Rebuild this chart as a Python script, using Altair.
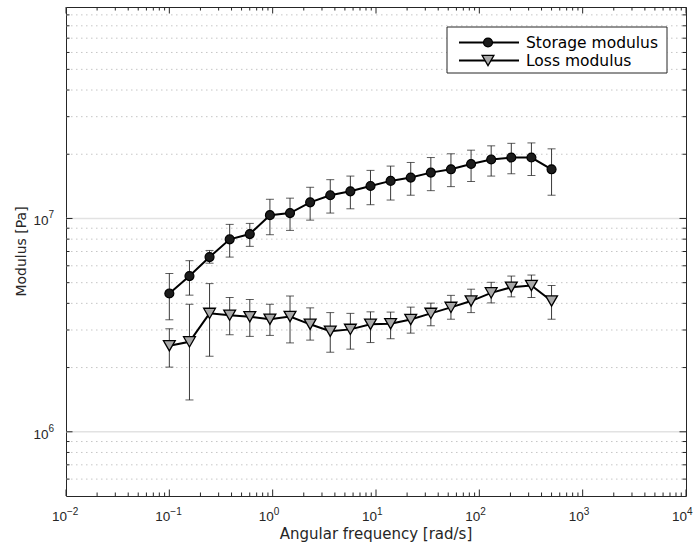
import altair as alt
import pandas as pd

# ---------------- data ----------------
freq = [0.1, 0.1566, 0.2450, 0.3837, 0.6008, 0.9404, 1.472, 2.305, 3.608, 5.649,
        8.845, 13.85, 21.68, 33.95, 53.13, 83.18, 130.2, 203.9, 319.2, 500.0]

storage = [4.45e6, 5.37e6, 6.59e6, 7.98e6, 8.45e6, 1.036e7, 1.06e7, 1.19e7, 1.285e7, 1.34e7,
           1.42e7, 1.50e7, 1.555e7, 1.64e7, 1.70e7, 1.80e7, 1.89e7, 1.93e7, 1.93e7, 1.70e7]
storage_lo = [3.35e6, 4.37e6, 6.17e6, 6.59e6, 7.40e6, 8.39e6, 8.79e6, 9.82e6, 1.06e7, 1.11e7,
              1.16e7, 1.22e7, 1.285e7, 1.35e7, 1.41e7, 1.49e7, 1.58e7, 1.62e7, 1.59e7, 1.285e7]
storage_hi = [5.52e6, 6.34e6, 7.08e6, 9.38e6, 9.48e6, 1.23e7, 1.245e7, 1.40e7, 1.52e7, 1.58e7,
              1.68e7, 1.76e7, 1.83e7, 1.93e7, 2.01e7, 2.09e7, 2.19e7, 2.25e7, 2.26e7, 2.12e7]

loss = [2.53e6, 2.64e6, 3.59e6, 3.52e6, 3.46e6, 3.37e6, 3.47e6, 3.19e6, 2.96e6, 3.02e6,
        3.19e6, 3.21e6, 3.36e6, 3.59e6, 3.83e6, 4.10e6, 4.48e6, 4.76e6, 4.85e6, 4.10e6]
loss_lo = [2.01e6, 1.41e6, 2.26e6, 2.85e6, 2.80e6, 2.83e6, 2.61e6, 2.69e6, 2.36e6, 2.44e6,
           2.62e6, 2.73e6, 2.90e6, 3.14e6, 3.37e6, 3.62e6, 4.02e6, 4.29e6, 4.26e6, 3.37e6]
loss_hi = [3.04e6, 3.96e6, 4.95e6, 4.26e6, 4.17e6, 3.96e6, 4.33e6, 3.81e6, 3.62e6, 3.59e6,
           3.65e6, 3.64e6, 3.84e6, 4.01e6, 4.36e6, 4.66e6, 5.02e6, 5.37e6, 5.43e6, 4.85e6]

series_names = ["Storage modulus", "Loss modulus"]

x_major = [0.01, 0.1, 1, 10, 100, 1000, 10000]
x_major_exp = ["\u22122", "\u22121", "0", "1", "2", "3", "4"]
y_major = [1e6, 1e7]
y_major_exp = ["6", "7"]
x_minor = [m * 10.0 ** e for e in range(-2, 4) for m in range(2, 10)]
y_minor = ([m * 1e5 for m in range(6, 10)] + [m * 1e6 for m in range(2, 10)]
           + [m * 1e7 for m in range(2, 10)])

x_title = "Angular frequency [rad/s]"
y_title = "Modulus [Pa]"

# ---------------- layout / style ----------------
W, H = 620, 489
TICKFONT = "Liberation Sans"
FONT = "DejaVu Sans"
AX = "#262626"

df = pd.DataFrame({
    "freq": freq,
    "storage": storage, "storage_lo": storage_lo, "storage_hi": storage_hi,
    "loss": loss, "loss_lo": loss_lo, "loss_hi": loss_hi,
})

xs = alt.Scale(type="log", domain=[1e-2, 1e4], nice=False)
ys = alt.Scale(type="log", domain=[5e5, 9.8e7], nice=False)


def X(field):
    return alt.X(field, type="quantitative", scale=xs, axis=None)


def Y(field):
    return alt.Y(field, type="quantitative", scale=ys, axis=None)


layers = []

# gridlines (horizontal only)
layers.append(alt.Chart(pd.DataFrame({"v": y_minor})).mark_rule(
    color="#c6c6c6", strokeWidth=1, strokeDash=[1.5, 3.5]
).encode(y=Y("v"), x=alt.value(0), x2=alt.value(W)))
layers.append(alt.Chart(pd.DataFrame({"v": y_major})).mark_rule(
    color="#e2e2e2", strokeWidth=1.5
).encode(y=Y("v"), x=alt.value(0), x2=alt.value(W)))

base = alt.Chart(df)

# error bars
for mean, lo, hi in (("storage", "storage_lo", "storage_hi"), ("loss", "loss_lo", "loss_hi")):
    layers.append(base.mark_rule(color="#3a3a3a", strokeWidth=1).encode(
        x=X("freq"), y=Y(lo), y2=alt.Y2(hi)))
    for f in (lo, hi):
        layers.append(base.mark_tick(orient="horizontal", size=8, thickness=1, color="#1a1a1a").encode(
            x=X("freq"), y=Y(f)))

# lines + markers
layers.append(base.mark_line(color="black", strokeWidth=2).encode(x=X("freq"), y=Y("storage")))
layers.append(base.mark_line(color="black", strokeWidth=2).encode(x=X("freq"), y=Y("loss")))
layers.append(base.mark_point(shape="circle", filled=True, size=80, fill="#1c1c1c",
                              stroke="black", strokeWidth=1.2, opacity=1).encode(
    x=X("freq"), y=Y("storage")))
layers.append(base.mark_point(shape="triangle-down", filled=True, size=140, fill="#a9a9a9",
                              stroke="black", strokeWidth=1.3, opacity=1).encode(
    x=X("freq"), y=Y("loss")))

# inward ticks on all four sides
MAJ, MIN = 6.5, 3.5
for vals, ln in ((x_major, MAJ), (x_minor, MIN)):
    d = alt.Chart(pd.DataFrame({"v": vals}))
    layers.append(d.mark_rule(color=AX, strokeWidth=1).encode(
        x=X("v"), y=alt.value(H), y2=alt.value(H - ln)))
    layers.append(d.mark_rule(color=AX, strokeWidth=1).encode(
        x=X("v"), y=alt.value(0), y2=alt.value(ln)))
for vals, ln in ((y_major, MAJ), (y_minor, MIN)):
    d = alt.Chart(pd.DataFrame({"v": vals}))
    layers.append(d.mark_rule(color=AX, strokeWidth=1).encode(
        y=Y("v"), x=alt.value(0), x2=alt.value(ln)))
    layers.append(d.mark_rule(color=AX, strokeWidth=1).encode(
        y=Y("v"), x=alt.value(W), x2=alt.value(W - ln)))

# tick labels: "10" with raised exponent
xl = alt.Chart(pd.DataFrame({"v": x_major, "e": x_major_exp}))
layers.append(xl.mark_text(align="right", baseline="alphabetic", font=TICKFONT, fontSize=13.5,
                           color=AX, dx=1).encode(x=X("v"), y=alt.value(H + 25), text=alt.value("10")))
layers.append(xl.mark_text(align="left", baseline="alphabetic", font=TICKFONT, fontSize=10,
                           color=AX, dx=1).encode(x=X("v"), y=alt.value(H + 19), text="e:N"))
yl = alt.Chart(pd.DataFrame({"v": y_major, "e": y_major_exp}))
layers.append(yl.mark_text(align="right", baseline="alphabetic", font=TICKFONT, fontSize=13.5,
                           color=AX, dx=-17.5, dy=7).encode(y=Y("v"), x=alt.value(0), text=alt.value("10")))
layers.append(yl.mark_text(align="left", baseline="alphabetic", font=TICKFONT, fontSize=10,
                           color=AX, dx=-17.5, dy=0).encode(y=Y("v"), x=alt.value(0), text="e:N"))

# axis titles
tt = alt.Chart(pd.DataFrame({"t": [x_title]}))
layers.append(tt.mark_text(align="center", baseline="alphabetic", font=FONT, fontSize=15,
                           color=AX).encode(x=alt.value(W / 2), y=alt.value(H + 43), text="t:N"))
ty = alt.Chart(pd.DataFrame({"t": [y_title]}))
layers.append(ty.mark_text(align="center", baseline="middle", font=FONT, fontSize=14, angle=270,
                           color=AX).encode(x=alt.value(-44), y=alt.value(H / 2), text="t:N"))

# legend (manual, MATLAB style)
leg = alt.Chart(pd.DataFrame({"name": series_names}))
LX0, LX1, LY0, LY1 = 381, 601, 20, 66
rows = [35.5, 53.5]
layers.append(leg.transform_filter(alt.datum.name == series_names[0]).mark_rect(
    fill="white", stroke=AX, strokeWidth=1).encode(
    x=alt.value(LX0), x2=alt.value(LX1), y=alt.value(LY0), y2=alt.value(LY1)))
shapes = [("circle", 80, "#1c1c1c", 1.2), ("triangle-down", 140, "#a9a9a9", 1.3)]
for i, name in enumerate(series_names):
    sub = leg.transform_filter(alt.datum.name == name)
    layers.append(sub.mark_rule(color="black", strokeWidth=2).encode(
        x=alt.value(393), x2=alt.value(453), y=alt.value(rows[i])))
    shp, sz, fc, sw = shapes[i]
    layers.append(sub.mark_point(shape=shp, filled=True, size=sz, fill=fc, stroke="black",
                                 strokeWidth=sw, opacity=1).encode(
        x=alt.value(422), y=alt.value(rows[i])))
    layers.append(sub.mark_text(align="left", baseline="middle", font=FONT, fontSize=15.5,
                                color="black").encode(
        text="name:N", x=alt.value(460), y=alt.value(rows[i])))

chart = alt.layer(*layers).properties(
    width=W, height=H,
    autosize=alt.AutoSizeParams(type="none"),
    padding={"left": 66, "top": 7, "right": 10, "bottom": 54},
    background="white",
).configure_view(stroke=AX, strokeWidth=1)

chart.save("out.html", embed_options={"renderer": "svg", "actions": False})
